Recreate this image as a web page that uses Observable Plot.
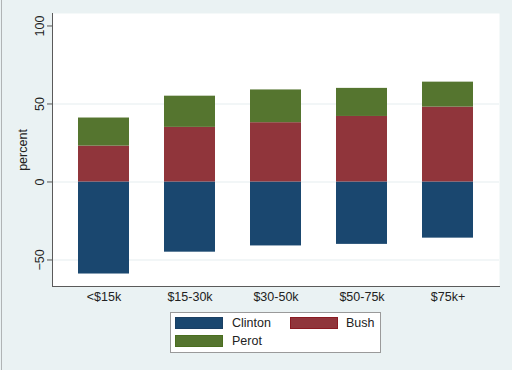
<!DOCTYPE html>
<html><head><meta charset="utf-8">
<script src="https://cdn.jsdelivr.net/npm/d3@7"></script>
<script src="https://cdn.jsdelivr.net/npm/@observablehq/plot@0.6"></script>
<style>
body{margin:0;background:#eaf2f3;font-family:"Liberation Sans",Arial,sans-serif;}
#wrap{position:relative;width:512px;height:370px;overflow:hidden;background:#eaf2f3;}
#chart{position:absolute;left:0;top:0;}
#legend{position:absolute;left:170px;top:312px;width:209px;height:39px;background:#fff;border:1px solid #9a9a9a;font-size:12.5px;color:#222;}
.sw{position:absolute;width:48px;height:12px;box-sizing:border-box;}
.lb{position:absolute;line-height:14px;}
.edge{position:absolute;left:1px;top:0;width:1px;height:370px;background:#b0b4b5;}
</style></head><body>
<div id="wrap"><div id="chart"></div><div id="legend"></div><div class="edge"></div></div>
<script>
const categories = ["<$15k","$15-30k","$30-50k","$50-75k","$75k+"];
const clinton = [59,45,41,40,36];
const bush = [23,35,38,42,48];
const perot = [18,20,21,18,16];
const seriesNames = ["Clinton","Bush","Perot"];
const seriesColors = ["#1a476f","#90353b","#55752f"];
const seriesEdges = ["#1a3f63","#8a1a22","#4a6e1f"];
const yTicks = [-50,0,50,100];
const gridValues = [-50,0,50];

const rows = [];
categories.forEach((c,i)=>{
  rows.push({cat:c, series:"Clinton", value:-clinton[i]});
  rows.push({cat:c, series:"Bush", value:bush[i]});
  rows.push({cat:c, series:"Perot", value:perot[i]});
});

const chart = Plot.plot({
  width:512, height:305, marginLeft:52, marginRight:13, marginTop:13, marginBottom:19,
  style:{background:"transparent", fontFamily:'"Liberation Sans",Arial,sans-serif', fontSize:"12.5px", color:"#222"},
  x:{domain:categories, paddingInner:0.406, paddingOuter:0.28, label:null},
  y:{domain:[-67,108], label:"percent"},
  color:{domain:seriesNames, range:seriesColors},
  marks:[
    Plot.frame({fill:"white", stroke:null}),
    Plot.ruleY(gridValues,{stroke:"#e6eef0", strokeWidth:1.2}),
    Plot.barY(rows,{x:"cat", y:"value", fill:"series", order:seriesNames}),
    Plot.axisY({ticks:yTicks, tickSize:5, tickRotate:-90, tickPadding:4, label:"percent", labelAnchor:"center", labelArrow:"none", labelOffset:34, stroke:"#555"}),
    Plot.axisX({tickSize:0, tickPadding:6, label:null}),
    Plot.frame({anchor:"left", stroke:"#5a5a5a"}),
    Plot.frame({anchor:"bottom", stroke:"#5a5a5a"})
  ]
});
document.getElementById("chart").appendChild(chart);

const legend = document.getElementById("legend");
const pos = [{sx:4,sy:4,lx:61,ly:3},{sx:119,sy:4,lx:175,ly:3},{sx:4,sy:22,lx:61,ly:21}];
seriesNames.forEach((s,i)=>{
  const sw = document.createElement("div");
  sw.className="sw"; sw.style.left=pos[i].sx+"px"; sw.style.top=pos[i].sy+"px";
  sw.style.background=seriesColors[i]; sw.style.border="1px solid "+seriesEdges[i];
  legend.appendChild(sw);
  const lb = document.createElement("div");
  lb.className="lb"; lb.style.left=pos[i].lx+"px"; lb.style.top=pos[i].ly+"px";
  lb.textContent=s; legend.appendChild(lb);
});
</script>
</body></html>
